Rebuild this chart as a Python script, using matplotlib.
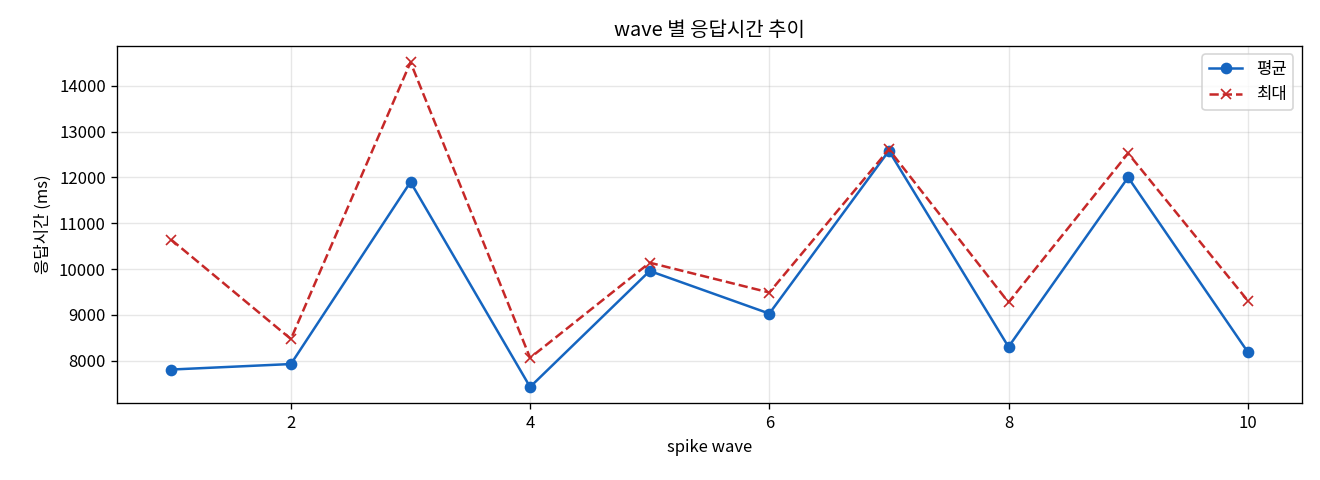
import matplotlib
matplotlib.use("Agg")
import matplotlib.pyplot as plt

plt.rcParams["font.family"] = ["Noto Sans CJK KR", "DejaVu Sans"]

waves = [1, 2, 3, 4, 5, 6, 7, 8, 9, 10]
mean_ms = [7810, 7930, 11900, 7430, 9960, 9030, 12580, 8305, 12000, 8195]
max_ms = [10640, 8475, 14510, 8065, 10140, 9490, 12610, 9275, 12525, 9315]

BLUE, RED = "#1565C0", "#C62828"

fig, ax = plt.subplots(figsize=(11, 4), dpi=120)
ax.plot(waves, mean_ms, "-o", color=BLUE, label="평균", ms=6)
ax.plot(waves, max_ms, "--x", color=RED, label="최대", ms=6.5)
ax.set_title("wave 별 응답시간 추이")
ax.set_xlabel("spike wave")
ax.set_ylabel("응답시간 (ms)")
ax.grid(alpha=0.3)
ax.legend(loc="upper right")
fig.subplots_adjust(left=0.089, right=0.986, top=0.904, bottom=0.160)
fig.savefig("out.png", dpi=120)
